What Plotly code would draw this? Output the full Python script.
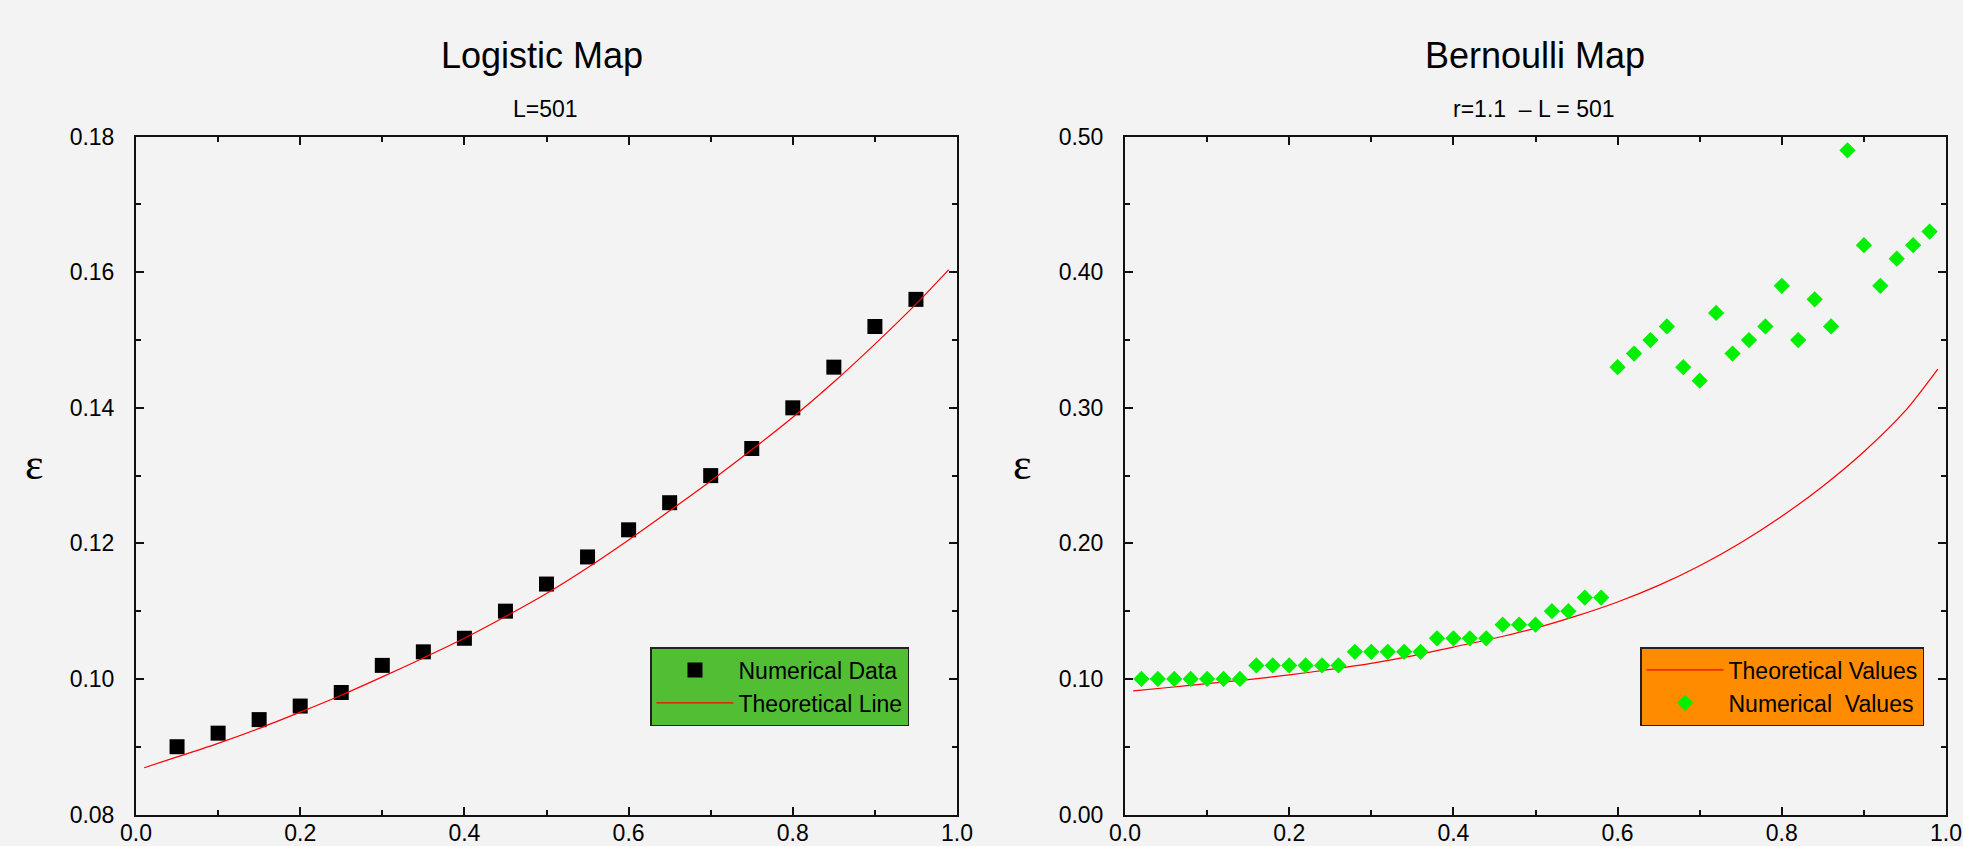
import plotly.graph_objects as go

FONT = "Liberation Sans, Arial, sans-serif"
SERIF = "Liberation Serif, Times New Roman, serif"

# ---------------- Logistic map data ----------------
log_x = [0.05, 0.10, 0.15, 0.20, 0.25, 0.30, 0.35, 0.40, 0.45, 0.50,
         0.55, 0.60, 0.65, 0.70, 0.75, 0.80, 0.85, 0.90, 0.95]
log_num = [0.090, 0.092, 0.094, 0.096, 0.098, 0.102, 0.104, 0.106, 0.110, 0.114,
           0.118, 0.122, 0.126, 0.130, 0.134, 0.140, 0.146, 0.152, 0.156]

log_theory_x = [0.01, 0.05, 0.10, 0.15, 0.20, 0.25, 0.30, 0.35, 0.40, 0.45, 0.50,
                0.55, 0.60, 0.65, 0.70, 0.75, 0.80, 0.85, 0.90, 0.95, 0.99]
log_theory_y = [0.0869, 0.0885, 0.0905, 0.0927, 0.0951, 0.0976, 0.1003, 0.1031, 0.1060,
                0.1092, 0.1126, 0.1164, 0.1205, 0.1248, 0.1292, 0.1338, 0.1386, 0.1438,
                0.1494, 0.1553, 0.1604]

# ---------------- Bernoulli map data ----------------
ber_x = [0.02, 0.04, 0.06, 0.08, 0.10, 0.12, 0.14, 0.16, 0.18, 0.20,
         0.22, 0.24, 0.26, 0.28, 0.30, 0.32, 0.34, 0.36, 0.38, 0.40,
         0.42, 0.44, 0.46, 0.48, 0.50, 0.52, 0.54, 0.56, 0.58, 0.60,
         0.62, 0.64, 0.66, 0.68, 0.70, 0.72, 0.74, 0.76, 0.78, 0.80,
         0.82, 0.84, 0.86, 0.88, 0.90, 0.92, 0.94, 0.96, 0.98]
ber_num = [0.10, 0.10, 0.10, 0.10, 0.10, 0.10, 0.10, 0.11, 0.11, 0.11,
           0.11, 0.11, 0.11, 0.12, 0.12, 0.12, 0.12, 0.12, 0.13, 0.13,
           0.13, 0.13, 0.14, 0.14, 0.14, 0.15, 0.15, 0.16, 0.16, 0.33,
           0.34, 0.35, 0.36, 0.33, 0.32, 0.37, 0.34, 0.35, 0.36, 0.39,
           0.35, 0.38, 0.36, 0.49, 0.42, 0.39, 0.41, 0.42, 0.43]

ber_theory_x = [0.01, 0.05, 0.10, 0.15, 0.20, 0.25, 0.30, 0.35, 0.40, 0.45, 0.50,
                0.55, 0.60, 0.65, 0.70, 0.75, 0.80, 0.85, 0.90, 0.95, 0.99]
ber_theory_y = [0.0912, 0.0935, 0.0965, 0.0995, 0.1030, 0.1070, 0.1115, 0.1170, 0.1235,
                0.1300, 0.1375, 0.1465, 0.1568, 0.1690, 0.1835, 0.2005, 0.2200, 0.2422,
                0.2676, 0.2975, 0.3286]

W, H = 1963, 846
BG = "#F3F3F3"

fig = go.Figure()
fig.add_trace(go.Scatter(x=log_x, y=log_num, mode="markers", name="Numerical Data",
                         marker=dict(symbol="square", size=15, color="black"),
                         xaxis="x", yaxis="y", legend="legend"))
fig.add_trace(go.Scatter(x=log_theory_x, y=log_theory_y, mode="lines", name="Theoretical Line",
                         line=dict(color="#FF0000", width=1.2, shape="spline", smoothing=0.8),
                         xaxis="x", yaxis="y", legend="legend"))
fig.add_trace(go.Scatter(x=ber_theory_x, y=ber_theory_y, mode="lines", name="Theoretical Values",
                         line=dict(color="#FF0000", width=1.2, shape="spline", smoothing=0.8),
                         xaxis="x2", yaxis="y2", legend="legend2"))
fig.add_trace(go.Scatter(x=ber_x, y=ber_num, mode="markers", name="Numerical\u00a0\u00a0Values",
                         marker=dict(symbol="diamond", size=12.5, color="#00F000"),
                         xaxis="x2", yaxis="y2", legend="legend2"))

def axis(**kw):
    d = dict(showline=True, linecolor="#111", linewidth=2, mirror="ticks",
             ticks="inside", ticklen=8, tickwidth=1.5, tickcolor="#111",
             showgrid=False, zeroline=False, automargin=False,
             tickfont=dict(size=23, color="black", family=FONT))
    d.update(kw)
    return d

xd1 = [136 / W, 957 / W]
xd2 = [1125 / W, 1946 / W]
yd = [(H - 814.5) / H, (H - 136.7) / H]

MINOR = dict(ticks="inside", ticklen=5, tickwidth=1.5, tickcolor="#111")

fig.update_layout(
    width=W, height=H,
    margin=dict(l=0, r=0, t=0, b=0, pad=0, autoexpand=False),
    paper_bgcolor=BG, plot_bgcolor=BG,
    font=dict(family=FONT, color="black"),
    xaxis=axis(domain=xd1, range=[0, 1], dtick=0.2, tick0=0, tickformat=".1f",
               minor=dict(dtick=0.1, **MINOR), anchor="y", ticklabelstandoff=-3),
    yaxis=axis(domain=yd, range=[0.08, 0.18], dtick=0.02, tick0=0.08, tickformat=".2f",
               minor=dict(dtick=0.01, **MINOR), anchor="x", ticklabelstandoff=15),
    xaxis2=axis(domain=xd2, range=[0, 1], dtick=0.2, tick0=0, tickformat=".1f",
                minor=dict(dtick=0.1, **MINOR), anchor="y2", ticklabelstandoff=-3),
    yaxis2=axis(domain=yd, range=[0, 0.5], dtick=0.1, tick0=0, tickformat=".2f",
                minor=dict(dtick=0.05, **MINOR), anchor="x2", ticklabelstandoff=15),
    legend=dict(x=909 / W, y=1 - 647 / H, xanchor="right", yanchor="top",
                bgcolor="#52BE34", bordercolor="#222", borderwidth=1.5,
                font=dict(size=23, color="black", family=FONT), itemwidth=77,
                traceorder="normal"),
    legend2=dict(x=1924 / W, y=1 - 647 / H, xanchor="right", yanchor="top",
                 bgcolor="#FF8C00", bordercolor="#222", borderwidth=1.5,
                 font=dict(size=23, color="black", family=FONT), itemwidth=77,
                 traceorder="normal"),
    showlegend=True,
)

annos = [
    dict(text="Logistic Map", x=541.5 / W, y=(H - 55.7) / H, font=dict(size=36)),
    dict(text="L=501", x=545 / W, y=(H - 109.3) / H, font=dict(size=23)),
    dict(text="Bernoulli Map", x=1535 / W, y=(H - 55.7) / H, font=dict(size=36)),
    dict(text="r=1.1 \u00a0\u2013 L = 501", x=1534 / W, y=(H - 109.3) / H, font=dict(size=23)),
    dict(text="\u03b5", x=34 / W, y=(H - 465) / H, font=dict(size=44, family=SERIF)),
    dict(text="\u03b5", x=1022 / W, y=(H - 465) / H, font=dict(size=44, family=SERIF)),
]
for a in annos:
    a.update(xref="paper", yref="paper", showarrow=False, xanchor="center", yanchor="middle")
    a["font"] = dict(family=a["font"].get("family", FONT), size=a["font"]["size"], color="black")
fig.update_layout(annotations=annos)

fig.write_html("out.html")
